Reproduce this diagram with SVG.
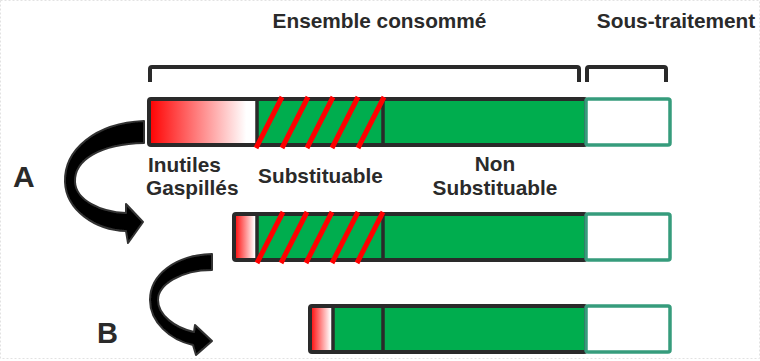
<svg xmlns="http://www.w3.org/2000/svg" width="760" height="361" viewBox="0 0 760 361">
  <defs>
    <linearGradient id="waste" x1="0" y1="0" x2="1" y2="0">
      <stop offset="0" stop-color="#ff0000"/>
      <stop offset="0.9" stop-color="#ffffff"/>
      <stop offset="1" stop-color="#ffffff"/>
    </linearGradient>
    <filter id="soft" x="-10%" y="-10%" width="120%" height="120%">
      <feGaussianBlur stdDeviation="0.6"/>
    </filter>
  </defs>
  <style>
    text { font-family: "Liberation Sans", Arial, sans-serif; font-weight: bold; fill: #2a2a2a; }
    .lbl { font-size: 20.8px; }
    .big { font-size: 30px; }
    .frame { fill: none; stroke: #2a2a2a; stroke-width: 4; }
    .div { stroke: #2a2a2a; stroke-width: 3.5; }
    .sub { fill: #ffffff; stroke: #369c7c; stroke-width: 3.5; }
    .green { fill: #00ad4e; }
    .hatch { stroke: #ff0000; stroke-width: 5; }
    .brace { fill: none; stroke: #2a2a2a; stroke-width: 4; stroke-linejoin: round; stroke-linecap: butt; }
    .curve { fill: #000000; stroke: #333333; stroke-width: 2; stroke-linejoin: round; }
  </style>

  <!-- faint page border -->
  <rect x="0.5" y="0.5" width="759" height="358" fill="none" stroke="#e2e2e2" stroke-width="1" stroke-dasharray="2 2"/>

  <!-- headings and braces -->
  <g id="heading-consumed">
    <text class="lbl" x="379.5" y="28" text-anchor="middle">Ensemble consommé</text>
    <path class="brace" d="M150 82 V69 Q150 67 152 67 H577 Q579 67 579 69 V82"/>
  </g>
  <g id="heading-subcontract">
    <text class="lbl" x="676" y="28" text-anchor="middle">Sous-traitement</text>
    <path class="brace" d="M587 82 V69 Q587 67 589 67 H664 Q666 67 666 69 V82"/>
  </g>

  <!-- bar 1: initial state -->
  <g id="bar-initial">
    <rect x="149" y="99" width="108" height="46" fill="url(#waste)"/>
    <rect class="green" x="257" y="99" width="329" height="46"/>
    <line class="div" x1="257" y1="99" x2="257" y2="145"/>
    <line class="div" x1="383" y1="99" x2="383" y2="145"/>
    <rect class="frame" x="149" y="99" width="437" height="46" rx="2"/>
    <g class="hatch">
      <line x1="256" y1="148" x2="282" y2="97"/>
      <line x1="282" y1="148" x2="308" y2="97"/>
      <line x1="307" y1="148" x2="333" y2="97"/>
      <line x1="332" y1="148" x2="358" y2="97"/>
      <line x1="358" y1="148" x2="384" y2="97"/>
    </g>
    <rect class="sub" x="586" y="99" width="84" height="46" rx="2"/>
  </g>

  <!-- segment labels -->
  <g id="label-waste">
    <text class="lbl" x="148" y="172">Inutiles</text>
    <text class="lbl" x="146" y="195">Gaspillés</text>
  </g>
  <g id="label-substitutable">
    <text class="lbl" x="320.5" y="183" text-anchor="middle">Substituable</text>
  </g>
  <g id="label-non-substitutable">
    <text class="lbl" x="495" y="171" text-anchor="middle">Non</text>
    <text class="lbl" x="495" y="195" text-anchor="middle">Substituable</text>
  </g>

  <!-- bar 2: waste reduced -->
  <g id="bar-step-a">
    <rect x="234" y="214" width="23" height="46" fill="url(#waste)"/>
    <rect class="green" x="257" y="214" width="329" height="46"/>
    <line class="div" x1="257" y1="214" x2="257" y2="260"/>
    <line class="div" x1="383" y1="214" x2="383" y2="260"/>
    <rect class="frame" x="234" y="214" width="352" height="46" rx="2"/>
    <g class="hatch">
      <line x1="257" y1="263" x2="283" y2="212"/>
      <line x1="281" y1="263" x2="307" y2="212"/>
      <line x1="306" y1="263" x2="332" y2="212"/>
      <line x1="332" y1="263" x2="358" y2="212"/>
      <line x1="357" y1="263" x2="383" y2="212"/>
    </g>
    <rect class="sub" x="586" y="214" width="84" height="46" rx="2"/>
  </g>

  <!-- bar 3: substitution done -->
  <g id="bar-step-b">
    <rect x="310" y="306" width="23" height="46" fill="url(#waste)"/>
    <rect class="green" x="333" y="306" width="253" height="46"/>
    <line class="div" x1="333" y1="306" x2="333" y2="352"/>
    <line class="div" x1="383" y1="306" x2="383" y2="352"/>
    <rect class="frame" x="310" y="306" width="276" height="46" rx="2"/>
    <rect class="sub" x="586" y="306" width="84" height="46" rx="2"/>
  </g>

  <!-- step letters -->
  <g id="step-a-label"><text class="big" x="13" y="187">A</text></g>
  <g id="step-b-label"><text class="big" x="97" y="343" style="font-size:29px">B</text></g>

  <!-- curved step arrows -->
  <g id="connectors" filter="url(#soft)">
    <path class="curve" d="M144 121 C95 123 64 150 65 182 C66 210 95 230 126 231 L128 243 L143 222 L126 204 L126 213 C100 212 76 200 75 182 C74 160 100 144 144 143 Z"/>
    <path class="curve" d="M212 254 C175 255 150 275 150 300 C150 322 170 340 193 345 L196 355 L212 341 L195 325 L194 332 C175 328 158 315 158 300 C158 285 180 270 212 270 Z"/>
  </g>
</svg>
